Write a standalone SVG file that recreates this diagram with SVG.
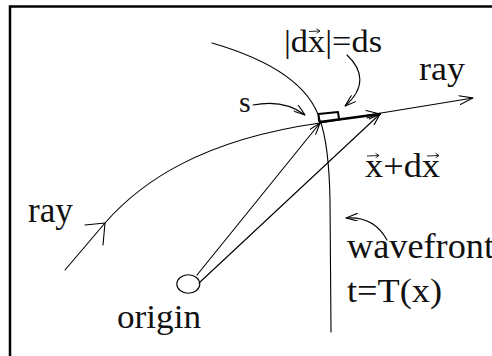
<svg xmlns="http://www.w3.org/2000/svg" width="492" height="356" viewBox="0 0 492 356">
<style>
.ln{fill:none;stroke:#000;stroke-width:1.1;stroke-linecap:round;stroke-linejoin:round}
.tk{fill:none;stroke:#000;stroke-width:2.4;stroke-linecap:round;stroke-linejoin:round}
.tx{font-family:"Liberation Serif","Times New Roman",serif;fill:#111}
.vec{fill:none;stroke:#111;stroke-width:0.9}
</style>
<defs>
<marker id="ah" viewBox="0 0 14 10" refX="14" refY="5" markerWidth="14" markerHeight="10" markerUnits="userSpaceOnUse" orient="auto">
<path d="M0,0.5 L14,5 L0,9.5" fill="none" stroke="#000" stroke-width="1.1"/>
</marker>
<marker id="ahs" viewBox="0 0 12 8" refX="12" refY="4" markerWidth="12" markerHeight="8" markerUnits="userSpaceOnUse" orient="auto">
<path d="M0,0 L12,4 L0,8" fill="none" stroke="#000" stroke-width="1.1"/>
</marker>
</defs>
<rect width="492" height="356" fill="#fff"/>
<g id="frame">
<path d="M10,356 V6.5 H492" fill="none" stroke="#000" stroke-width="2.5"/>
</g>
<g id="connectors">
<path id="wavefront-line" class="ln" d="M212,43 Q305,70 320,120 Q329,145 330,200 L331,332"/>
<path id="ray-line" class="ln" d="M65,270 L105,223 C140,183 200,140 320,123 L473,98" marker-end="url(#ah)"/>
<path id="ray-mid-arrow" class="ln" d="M85,225 L105,223 L103,245"/>
<path id="dx-segment" class="tk" d="M320,122 L380,114"/>
<path id="dx-head" class="ln" d="M366,110.5 L380,114 L367,118"/>
<path id="ds-box" class="tk" style="stroke-width:2" d="M319,121 L318.5,114 L338,112 L339,119"/>
<path id="origin-to-x" class="ln" d="M197,275 L320,123" marker-end="url(#ahs)"/>
<path id="origin-to-xdx" class="ln" d="M199,283 L380,114" marker-end="url(#ahs)"/>
<path id="s-pointer" class="ln" d="M253,105 Q284,99 305,115" marker-end="url(#ahs)"/>
<path id="ds-pointer" class="ln" d="M347,55 C363,70 366,88 345,106" marker-end="url(#ahs)"/>
<path id="wavefront-pointer" class="ln" d="M387,240 Q374,216 346,218" marker-end="url(#ahs)"/>
</g>
<g id="origin">
<ellipse cx="188.3" cy="284" rx="11.5" ry="9.2" class="ln"/>
<text class="tx" x="117" y="328" font-size="34" textLength="84" lengthAdjust="spacingAndGlyphs">origin</text>
</g>
<g id="label-ray-left">
<text class="tx" x="28" y="222" font-size="35" textLength="45" lengthAdjust="spacingAndGlyphs">ray</text>
</g>
<g id="label-ray-right">
<text class="tx" x="419" y="80" font-size="33" textLength="46" lengthAdjust="spacingAndGlyphs">ray</text>
</g>
<g id="label-s">
<text class="tx" x="239" y="112" font-size="30">s</text>
</g>
<g id="label-dx-ds">
<text class="tx" x="284" y="52" font-size="31" textLength="98" lengthAdjust="spacingAndGlyphs">|dx|=ds</text>
<path class="vec" d="M309,31.5 L320,31 M316.5,28.8 L320,31 L316.7,33.3"/>
</g>
<g id="label-x-dx">
<text class="tx" x="365" y="177" font-size="33" textLength="75" lengthAdjust="spacingAndGlyphs">x+dx</text>
<path class="vec" d="M367,156 L379,155.5 M375.5,153.3 L379,155.5 L375.7,157.8"/>
<path class="vec" d="M427,156 L439,155.5 M435.5,153.3 L439,155.5 L435.7,157.8"/>
</g>
<g id="label-wavefront">
<text class="tx" x="347" y="258" font-size="35" textLength="147" lengthAdjust="spacingAndGlyphs">wavefront</text>
<text class="tx" x="347" y="302" font-size="34" textLength="95" lengthAdjust="spacingAndGlyphs">t=T(x)</text>
</g>
</svg>
